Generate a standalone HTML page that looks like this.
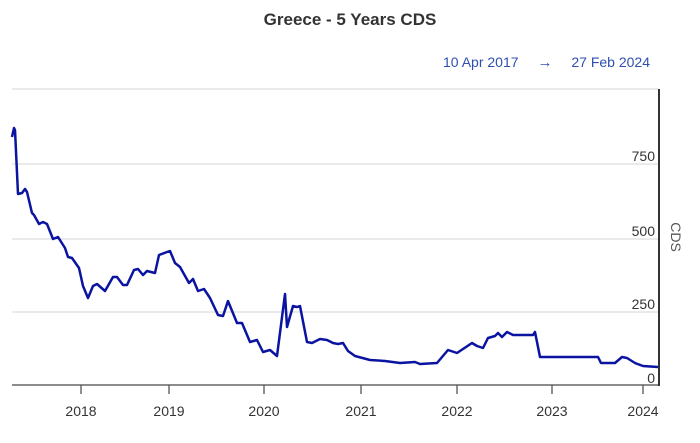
<!DOCTYPE html>
<html><head><meta charset="utf-8"><style>
body{margin:0;background:#fff;font-family:"Liberation Sans",sans-serif;}
</style></head><body>
<svg width="700" height="438" xmlns="http://www.w3.org/2000/svg" font-family="Liberation Sans, sans-serif">
<rect width="700" height="438" fill="#fff"/>
<text x="350" y="25" text-anchor="middle" font-size="17" font-weight="bold" fill="#333">Greece - 5 Years CDS</text>
<text x="443" y="67" font-size="14" fill="#2f4fb0">10 Apr 2017</text>
<text x="545" y="67" text-anchor="middle" font-size="15" fill="#2f4fb0">→</text>
<text x="650" y="67" text-anchor="end" font-size="14" fill="#2f4fb0">27 Feb 2024</text>
<g stroke="#d6d6d6" stroke-width="1">
<line x1="12" y1="89" x2="659" y2="89"/>
<line x1="12" y1="164" x2="659" y2="164"/>
<line x1="12" y1="239" x2="659" y2="239"/>
<line x1="12" y1="312" x2="659" y2="312"/>
</g>
<line x1="12" y1="385" x2="660" y2="385" stroke="#666" stroke-width="1.5"/>
<line x1="659" y1="89" x2="659" y2="386" stroke="#333" stroke-width="2"/>
<g stroke="#555" stroke-width="1.3">
<line x1="81" y1="385" x2="81" y2="394"/><line x1="169" y1="385" x2="169" y2="394"/>
<line x1="264" y1="385" x2="264" y2="394"/><line x1="361" y1="385" x2="361" y2="394"/>
<line x1="457" y1="385" x2="457" y2="394"/><line x1="552" y1="385" x2="552" y2="394"/>
<line x1="643" y1="385" x2="643" y2="394"/>
</g>
<g font-size="14" fill="#333" text-anchor="middle">
<text x="81" y="416">2018</text><text x="169" y="416">2019</text><text x="264" y="416">2020</text>
<text x="361" y="416">2021</text><text x="457" y="416">2022</text><text x="552" y="416">2023</text>
<text x="643" y="416">2024</text>
</g>
<g font-size="14" fill="#333" text-anchor="end">
<text x="655" y="161">750</text><text x="655" y="236">500</text><text x="655" y="309">250</text><text x="655" y="383">0</text>
</g>
<text transform="translate(671,237) rotate(90)" text-anchor="middle" font-size="14" fill="#555">CDS</text>
<polyline fill="none" stroke="#0a14a0" stroke-width="2.5" stroke-linejoin="round" points="12,137 14,128 15,130 18,194 22,193 25,189 27,192 32,213 34,215 39,224 43,222 47,224 53,239 58,237 65,248 68,257 72,258 79,268 83,286 88,298 93,286 97,284 105,291 113,277 117,277 123,285 127,285 134,270 138,269 143,275 147,271 155,273 159,255 167,252 170,251 175,263 180,267 189,283 193,279 198,291 204,289 210,298 218,315 223,316 228,301 237,323 242,323 250,342 257,340 263,352 270,350 277,356 285,294 287,327 293,306 297,307 300,306 307,342 312,343 320,339 327,340 333,343 338,344 343,343 348,351 355,356 370,360 385,361 400,363 415,362 420,364 437,363 448,350 457,353 463,349 472,343 477,346 483,348 488,338 495,336 498,333 502,337 507,332 513,335 533,335 535,332 540,357 598,357 601,363 615,363 622,357 627,358 635,363 643,366 658,367"/>
</svg>
</body></html>
